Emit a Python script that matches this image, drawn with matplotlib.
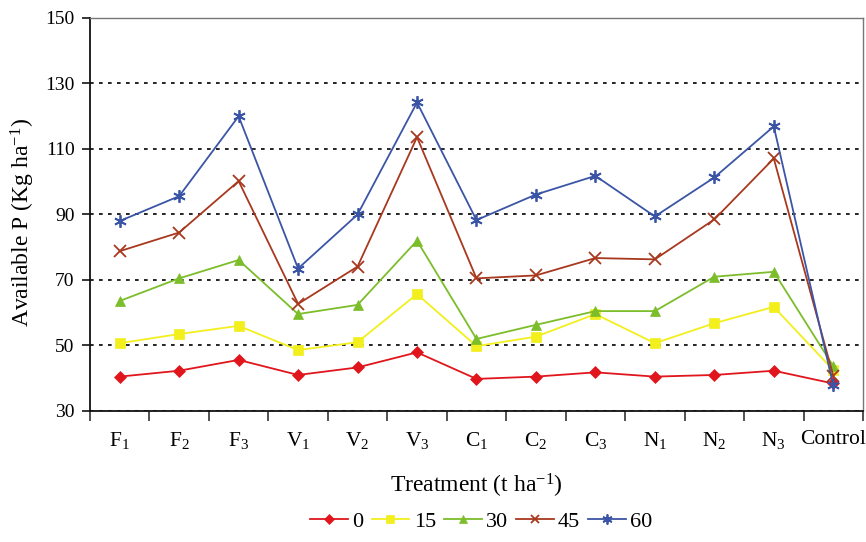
import matplotlib
matplotlib.use("Agg")
import matplotlib.pyplot as plt
from matplotlib.ticker import FixedLocator, NullFormatter

plt.rcParams['font.family'] = ['Liberation Serif', 'DejaVu Serif']
plt.rcParams['mathtext.fontset'] = 'custom'
plt.rcParams['mathtext.rm'] = 'Liberation Serif'
plt.rcParams['mathtext.it'] = 'Liberation Serif:italic'
plt.rcParams['mathtext.default'] = 'rm'

# Treatments (organic amendments at three rates, plus control)
treatments = ['F$_1$', 'F$_2$', 'F$_3$', 'V$_1$', 'V$_2$', 'V$_3$',
              'C$_1$', 'C$_2$', 'C$_3$', 'N$_1$', 'N$_2$', 'N$_3$', 'Control']

# Available P (kg/ha) by days after incubation
p_0 = [40.5, 42.3, 45.6, 41.0, 43.3, 47.9, 39.8, 40.5, 41.8, 40.5, 41.0, 42.3, 38.4]
p_15 = [50.7, 53.5, 56.0, 48.6, 51.0, 65.7, 49.8, 52.7, 59.6, 50.7, 56.8, 61.8, 42.5]
p_30 = [63.6, 70.5, 76.1, 59.6, 62.4, 82.0, 52.0, 56.3, 60.5, 60.5, 71.0, 72.5, 43.7]
p_45 = [78.8, 84.5, 100.2, 62.7, 74.1, 113.6, 70.5, 71.4, 76.7, 76.3, 88.5, 107.1, 40.8]
p_60 = [88.0, 95.6, 120.0, 73.5, 90.0, 124.2, 88.3, 96.1, 101.8, 89.4, 101.3, 116.9, 37.9]

series_labels = ['0', '15', '30', '45', '60']

fig = plt.figure(figsize=(8.66, 5.42), dpi=100)
ax = fig.add_axes([0.1039, 0.2417, 0.8926, 0.7251])

x = list(range(len(treatments)))
styles = [
    (p_0, '#e0161c', 'D', 6),
    (p_15, '#f2ef1d', 's', 6.5),
    (p_30, '#7cbd2a', '^', 7.5),
    (p_45, '#a8381e', 'x', 8),
    (p_60, '#3b55a6', (6, 2, 0), 9),
]
for (vals, color, marker, ms), lab in zip(styles, series_labels):
    ax.plot(x, vals, color=color, marker=marker, markersize=ms, linewidth=1.3,
            markeredgewidth=1.3 if marker in ('x', (6, 2, 0)) else 0.5,
            markeredgecolor=color, markerfacecolor=color, label=lab, zorder=3)

ax.set_xlim(-0.5, len(treatments) - 0.5)
ax.set_ylim(30, 150)
ax.set_yticks(range(30, 151, 20))

# category boundaries carry the tick marks, labels sit at category centers
ax.xaxis.set_major_locator(FixedLocator([i - 0.5 for i in range(len(treatments) + 1)]))
ax.xaxis.set_major_formatter(NullFormatter())
ax.xaxis.set_minor_locator(FixedLocator(x))
ax.set_xticklabels(treatments, minor=True)
ax.tick_params(axis='x', which='major', direction='out', length=7, width=1.1, color='#222222')
ax.tick_params(axis='x', which='minor', length=0, pad=14, labelsize=15.5)
ax.tick_params(axis='y', direction='out', length=6, width=1.1, labelsize=14, pad=5)

ax.grid(axis='y', linestyle=(0, (2.2, 3.2)), color='black', linewidth=1.2)
ax.set_axisbelow(True)
for side in ('left', 'bottom'):
    ax.spines[side].set_color('#111111')
    ax.spines[side].set_linewidth(1.3)
for side in ('top', 'right'):
    ax.spines[side].set_color('#777777')
    ax.spines[side].set_linewidth(1.0)

ax.set_ylabel('Available P (Kg ha$^{\\mathrm{-1}}$)', fontsize=17)
ax.yaxis.set_label_coords(-0.069, 0.48)
ax.set_xlabel('Treatment (t ha$^{\\mathrm{-1}}$)', fontsize=17, labelpad=15)

leg = fig.legend(loc='center', bbox_to_anchor=(0.556, 0.037), ncol=5, frameon=False,
                 fontsize=16, handlelength=1.7, handletextpad=0.2, columnspacing=0.35,
                 markerscale=0.8)

fig.savefig('out.png', dpi=100)
